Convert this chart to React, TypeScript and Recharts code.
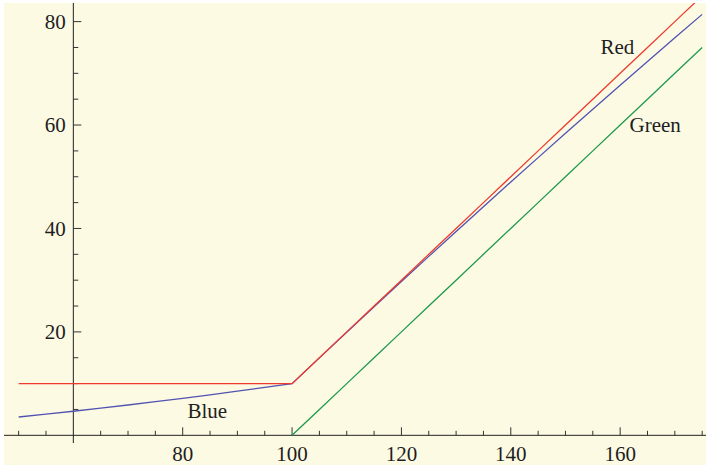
import { ComposedChart, Line, XAxis, YAxis, ReferenceLine, ReferenceArea, ReferenceDot } from "recharts"

// x values of the sampled curves
const xValues = [50, 55, 60, 65, 70, 75, 80, 85, 90, 95, 100, 105, 110, 115, 120, 125, 130, 135, 140, 145, 150, 155, 160, 165, 170, 175]

const redValues = [10, 10, 10, 10, 10, 10, 10, 10, 10, 10, 10, 15, 20, 25, 30, 35, 40, 45, 50, 55, 60, 65, 70, 75, 80, 85]
const blueValues = [3.54, 4.08, 4.65, 5.24, 5.86, 6.5, 7.16, 7.84, 8.54, 9.26, 10, 14.98, 19.94, 24.86, 29.74, 34.6, 39.42, 44.22, 48.98, 53.7, 58.4, 63.06, 67.7, 72.3, 76.86, 81.4]
const greenValues = [null, null, null, null, null, null, null, null, null, null, 0, 5, 10, 15, 20, 25, 30, 35, 40, 45, 50, 55, 60, 65, 70, 75]

// axis ticks (the axes cross at x=60, y=0)
const xTicks = [50, 55, 65, 70, 75, 80, 85, 90, 95, 100, 105, 110, 115, 120, 125, 130, 135, 140, 145, 150, 155, 160, 165, 170, 175]
const xLabels = [80, 100, 120, 140, 160]
const yTicks = [5, 10, 15, 20, 25, 30, 35, 40, 45, 50, 55, 60, 65, 70, 75, 80]
const yLabels = [20, 40, 60, 80]

const annotations = [
  { text: "Red", x: 159.5, y: 75.1 },
  { text: "Green", x: 166.4, y: 60 },
  { text: "Blue", x: 84.5, y: 4.7 },
]

const data = xValues.map((x, i) => ({ x, red: redValues[i], blue: blueValues[i], green: greenValues[i] }))

const X_DOMAIN: [number, number] = [47.32, 175.7]
const Y_DOMAIN: [number, number] = [-5.74, 83.6]
const AXIS_X = 60
const AXIS_Y = 0

const font = { fontFamily: "'Liberation Serif', 'Times New Roman', serif", fill: "#1e1e1e" }

export default function App() {
  return (
    <div style={{ position: "absolute", left: 0, top: 0, background: "#fff" }}>
      <ComposedChart width={708} height={468} data={data} margin={{ top: 3, right: 2, bottom: 3, left: 4 }}>
        <XAxis type="number" dataKey="x" domain={X_DOMAIN} allowDataOverflow hide />
        <YAxis type="number" domain={Y_DOMAIN} allowDataOverflow hide />
        <ReferenceArea x1={X_DOMAIN[0]} x2={X_DOMAIN[1]} y1={Y_DOMAIN[0]} y2={Y_DOMAIN[1]} fill="#FCFAE3" fillOpacity={1} stroke="none" />

        {/* axes */}
        <ReferenceLine y={AXIS_Y} stroke="#222" strokeWidth={1} />
        <ReferenceLine segment={[{ x: AXIS_X, y: Y_DOMAIN[1] }, { x: AXIS_X, y: -1.5 }]} stroke="#222" strokeWidth={1} />

        {xTicks.map((t) => {
          const major = t % 20 === 0
          return (
            <ReferenceLine
              key={"xt" + t}
              segment={[{ x: t, y: major ? 1.55 : 0.87 }, { x: t, y: AXIS_Y }]}
              stroke="#333"
              strokeWidth={1}
              label={xLabels.includes(t) ? { value: String(t), position: "bottom", offset: 10.5, fontSize: 21, ...font } : undefined}
            />
          )
        })}
        {yTicks.map((t) => {
          const major = t % 20 === 0
          return (
            <ReferenceLine
              key={"yt" + t}
              segment={[{ x: AXIS_X, y: t }, { x: AXIS_X + (major ? 1.46 : 0.91), y: t }]}
              stroke="#333"
              strokeWidth={1}
              label={yLabels.includes(t) ? { value: String(t), position: "left", offset: 7.5, fontSize: 21, ...font } : undefined}
            />
          )
        })}

        <Line type="linear" dataKey="green" stroke="#1E9A4E" strokeWidth={1.3} dot={false} isAnimationActive={false} />
        <Line type="linear" dataKey="blue" stroke="#5252B2" strokeWidth={1.3} dot={false} isAnimationActive={false} />
        <Line type="linear" dataKey="red" stroke="#EE3B2F" strokeWidth={1.3} dot={false} isAnimationActive={false} />

        {annotations.map((a) => (
          <ReferenceDot
            key={a.text}
            x={a.x}
            y={a.y}
            r={0}
            fill="none"
            stroke="none"
            label={{ value: a.text, position: "center", fontSize: 21, ...font }}
          />
        ))}
      </ComposedChart>
    </div>
  )
}
